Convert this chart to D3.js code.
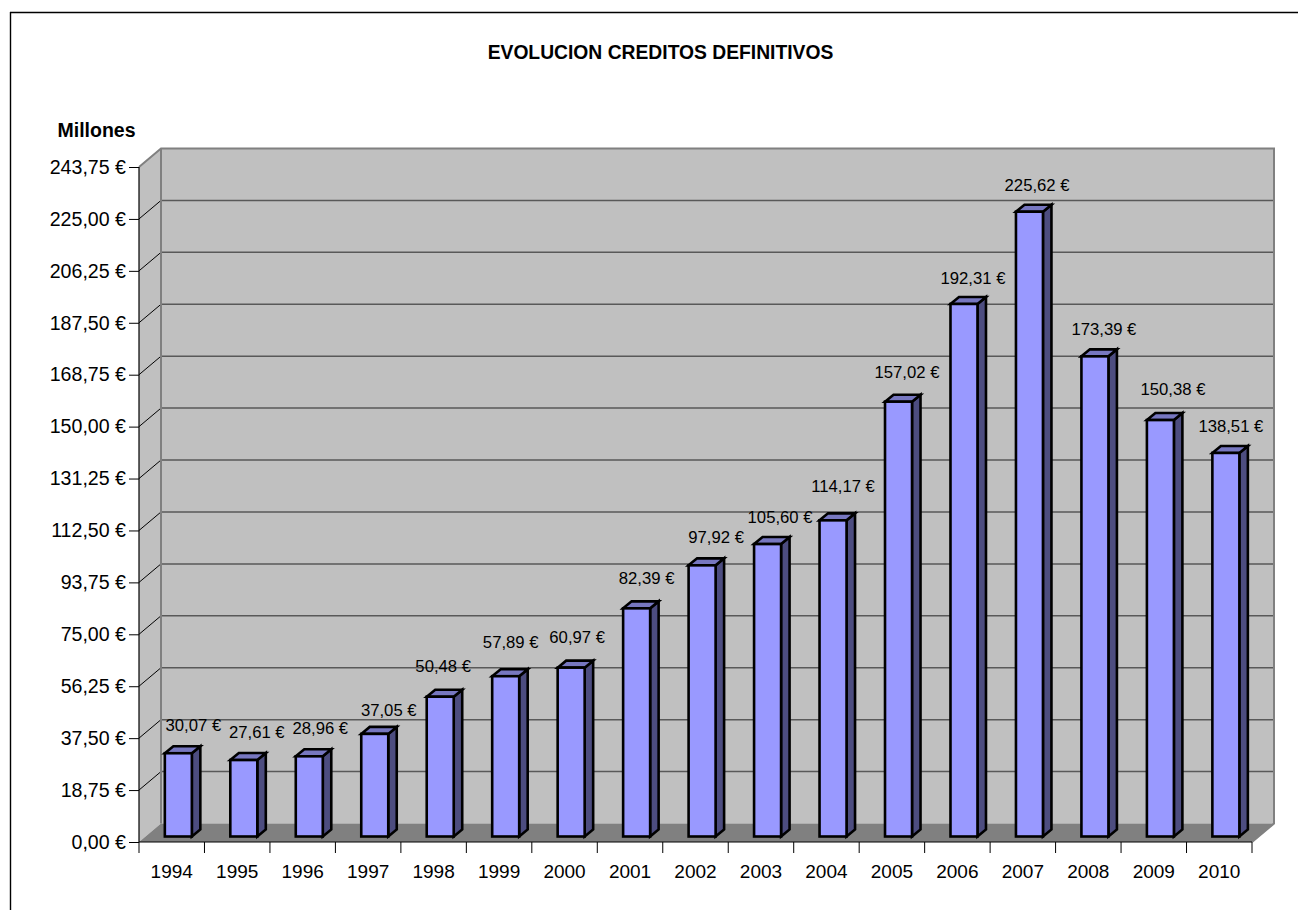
<!DOCTYPE html>
<html><head><meta charset="utf-8">
<script src="https://cdn.jsdelivr.net/npm/d3@7"></script>
<style>html,body{margin:0;padding:0;background:#fff}svg{display:block}text{font-family:"Liberation Sans",Arial,sans-serif;fill:#000}</style>
</head><body><svg id="c" width="1298" height="910"></svg>
<script>
const years=["1994","1995","1996","1997","1998","1999","2000","2001","2002","2003","2004","2005","2006","2007","2008","2009","2010"];
const values=[30.07,27.61,28.96,37.05,50.48,57.89,60.97,82.39,97.92,105.60,114.17,157.02,192.31,225.62,173.39,150.38,138.51];
const yTicks=[0,18.75,37.5,56.25,75,93.75,112.5,131.25,150,168.75,187.5,206.25,225,243.75];
const labelDx=[15,13,11,14,3,5,6,10,14,12.5,10,8.5,9,7.6,9,12.6,5];
const labelDy=[-27.6,-27.4,-27.7,-23.3,-30,-33.5,-30,-29.5,-27.5,-27,-33.4,-29.6,-25.7,-26.4,-27.2,-31,-26];
const title="EVOLUCION CREDITOS DEFINITIVOS", unit="Millones";
const fmt=v=>v.toFixed(2).replace(".",",")+" €";

const svg=d3.select("#c");
const X0=139,X1=1252,Y0=842,Y1=167,DX=22,DY=-18.5;
const x=d3.scaleBand().domain(years).range([X0,X1]);
const y=d3.scaleLinear().domain([0,243.75]).range([Y0,Y1]);
const g=svg.append("g");
const line=(a,b,c,d,col,w)=>g.append("line").attr("x1",a).attr("y1",b).attr("x2",c).attr("y2",d).attr("stroke",col).attr("stroke-width",w);
const poly=(pts,fill)=>g.append("polygon").attr("points",pts.map(p=>p.join(",")).join(" ")).attr("fill",fill);

// outer frame
line(10.5,12,10.5,910,"#000",1.4); line(10,12.5,1298,12.5,"#000",1.4);

// walls & floor
poly([[X0,Y0],[X0+DX,Y0+DY],[X0+DX,Y1+DY],[X0,Y1]],"#c0c0c0");
poly([[X0+DX,Y0+DY],[X1+DX,Y0+DY],[X1+DX,Y1+DY],[X0+DX,Y1+DY]],"#c0c0c0");
poly([[X0,Y0],[X1,Y0],[X1+DX,Y0+DY],[X0+DX,Y0+DY]],"#808080");

// gridlines
yTicks.filter(t=>t>0&&t<243.75).forEach(t=>{
  line(X0,y(t),X0+DX,y(t)+DY,"#000",1);
  line(X0+DX,y(t)+DY,X1+DX,y(t)+DY,"#595959",1.5);
});
// wall borders
g.append("path").attr("d",`M${X0},${Y1}L${X0+DX},${Y1+DY}H${X1+DX}V${Y0+DY}L${X1},${Y0}`).attr("fill","none").attr("stroke","#808080").attr("stroke-width",2);
line(X0+DX,Y1+DY,X0+DX,Y0+DY,"#808080",2);

// axes
const yAxis=d3.axisLeft(y).tickValues(yTicks).tickSize(10).tickPadding(3).tickFormat(fmt);
const ya=svg.append("g").attr("transform",`translate(${X0},0)`).call(yAxis);
ya.select(".domain").attr("d",`M0,${Y1}V${Y0}`).attr("stroke","#000").attr("stroke-width",1.2);
ya.selectAll("line").attr("stroke","#000");
ya.selectAll("text").attr("font-size",19.6).style("font-family",'"Liberation Sans",Arial,sans-serif');

line(X0,Y0,X1,Y0,"#000",1.2);
x.domain().concat("end").forEach((d,i)=>{
  const px=X0+i*x.bandwidth();
  line(px,Y0,px,Y0+11,"#000",1);
});
svg.append("g").selectAll("text").data(years).join("text")
  .attr("x",d=>x(d)+x.bandwidth()/2).attr("y",878).attr("text-anchor","middle").attr("font-size",19).text(d=>d);

// bars
const bw=27, ox=x.bandwidth()/2+6.6-bw/2, base=5.5, dxb=8.5, dyb=-7;
const bars=svg.append("g").selectAll("g").data(values).join("g")
  .attr("transform",(d,i)=>`translate(${x(years[i])+ox},${y(0)-base})`);
const attrs=s=>s.attr("stroke","#000").attr("stroke-width",2.6).attr("stroke-linejoin","miter");
attrs(bars.append("polygon").attr("fill","#4d4d80").attr("points",d=>{const h=y(0)-y(d);return `${bw},0 ${bw+dxb},${dyb} ${bw+dxb},${-h+dyb} ${bw},${-h}`}));
attrs(bars.append("polygon").attr("fill","#7777c0").attr("points",d=>{const h=y(0)-y(d);return `0,${-h} ${dxb},${-h+dyb} ${bw+dxb},${-h+dyb} ${bw},${-h}`}));
attrs(bars.append("rect").attr("fill","#9999ff").attr("x",0).attr("width",bw).attr("y",d=>-(y(0)-y(d))).attr("height",d=>y(0)-y(d)));
// labels
bars.append("text").attr("font-size",16.7).attr("text-anchor","middle").attr("dominant-baseline","central")
  .attr("x",(d,i)=>bw/2+labelDx[i]).attr("y",(d,i)=>-(y(0)-y(d))+labelDy[i]).text(fmt);

svg.append("text").attr("x",660.5).attr("y",59).attr("text-anchor","middle").attr("font-size",19.3).attr("font-weight","bold").text(title);
svg.append("text").attr("x",96.5).attr("y",137).attr("text-anchor","middle").attr("font-size",19.5).attr("font-weight","bold").text(unit);
</script></body></html>
